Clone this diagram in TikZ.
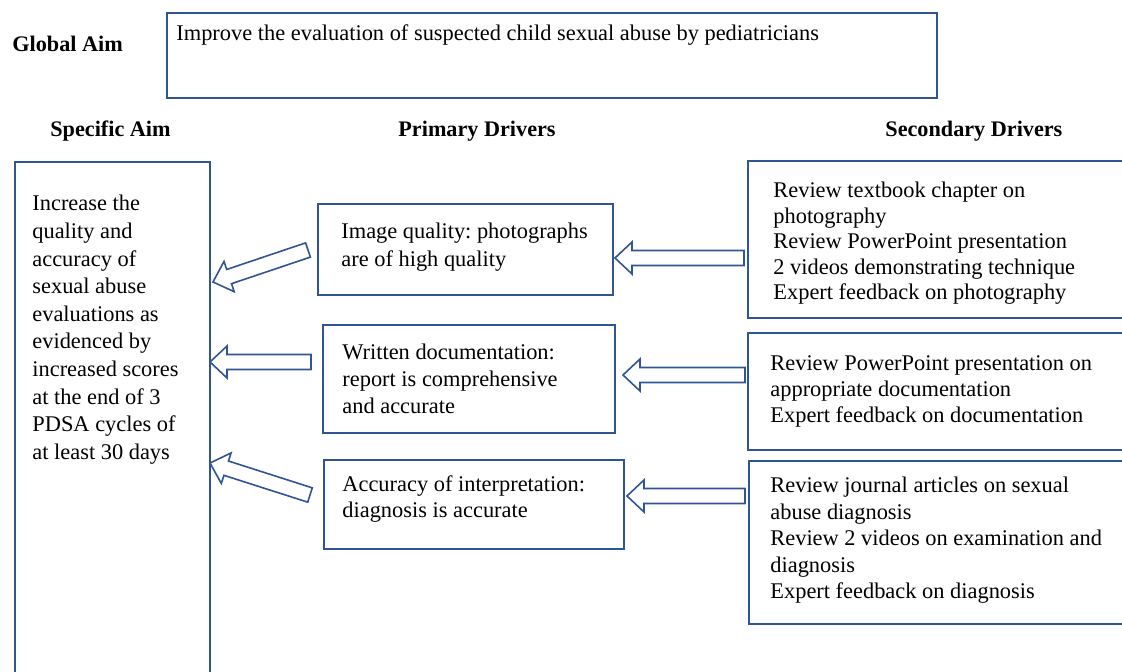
\documentclass[tikz,border=0pt]{standalone}
\usepackage{fontspec}
\setmainfont{Liberation Serif}
\usepackage{tikz}
\usetikzlibrary{calc,positioning}
\definecolor{boxblue}{RGB}{47,85,151}
\frenchspacing
\tikzset{>=latex}
\tikzset{
  box/.style={draw=boxblue, line width=0.8pt, rectangle, inner sep=0pt, anchor=north west},
  txt/.style={align=left, inner sep=0pt, anchor=north west, font=\fontsize{11.2}{13}\selectfont},
  ptxt/.style={txt, font=\fontsize{11.2}{13.8}\selectfont},
  head/.style={inner sep=0pt, anchor=base west, font=\fontsize{11.1}{13}\selectfont\bfseries},
  blk/.style={draw=boxblue, line width=0.8pt, fill=white, line join=miter}
}
\newcommand{\blkarrow}[2]{%
  \coordinate (hb) at ($(#2)!8.5pt!(#1)$);
  \draw[blk] ($(#1)!3.75pt!90:(#2)$) -- ($(hb)!3.75pt!90:(#2)$) -- ($(hb)!8pt!90:(#2)$) -- (#2)
    -- ($(hb)!8pt!-90:(#2)$) -- ($(hb)!3.75pt!-90:(#2)$) -- ($(#1)!3.75pt!-90:(#2)$) -- cycle;}

\begin{document}
\begin{tikzpicture}[x=0.5pt,y=-0.5pt]
\useasboundingbox (0,0) rectangle (1122,672);
\clip (0,0) rectangle (1122,672);

\node[head] (gaimlbl) at (12,52) {Global Aim};
\node[box, minimum width=385pt, minimum height=42.5pt] (gaim) at (166,12) {};
\node[txt] (gaimtxt) at (176,24) {Improve the evaluation of suspected child sexual abuse by pediatricians};

\node[head] (saimlbl) at (50,137) {Specific Aim};
\node[head] (plbl) at (398,137) {Primary Drivers};
\node[head] (slbl) at (885,137) {Secondary Drivers};

\node[box, minimum width=97.5pt, minimum height=270pt] (saim) at (14,161) {};
\node[ptxt] (saimtxt) at (32,195) {Increase the\\quality and\\accuracy of\\sexual abuse\\evaluations as\\evidenced by\\increased scores\\at the end of 3\\PDSA cycles of\\at least 30 days};

\node[box, minimum width=147.5pt, minimum height=45.5pt] (p1) at (317,203) {};
\node[ptxt] (p1txt) at (341,223) {Image quality: photographs\\are of high quality};
\node[box, minimum width=146pt, minimum height=54pt] (p2) at (322,324) {};
\node[ptxt, font=\fontsize{11.2}{13.5}\selectfont] (p2txt) at (342,344) {Written documentation:\\report is comprehensive\\and accurate};
\node[box, minimum width=150pt, minimum height=44.5pt] (p3) at (323,459) {};
\node[txt] (p3txt) at (342,475) {Accuracy of interpretation:\\diagnosis is accurate};

\node[box, minimum width=200pt, minimum height=78.5pt] (s1) at (747,160) {};
\node[txt, font=\fontsize{11.2}{12.7}\selectfont] (s1txt) at (773,182) {Review textbook chapter on\\photography\\Review PowerPoint presentation\\2 videos demonstrating technique\\Expert feedback on photography};
\node[box, minimum width=200pt, minimum height=58.5pt] (s2) at (747,332) {};
\node[txt] (s2txt) at (770,355) {Review PowerPoint presentation on\\appropriate documentation\\Expert feedback on documentation};
\node[box, minimum width=200pt, minimum height=81.5pt] (s3) at (748,460) {};
\node[txt, font=\fontsize{11.2}{13.2}\selectfont] (s3txt) at (770,477) {Review journal articles on sexual\\abuse diagnosis\\Review 2 videos on examination and\\diagnosis\\Expert feedback on diagnosis};

\coordinate (a1s) at (308,250);
\coordinate (a1e) at (213,282);
\coordinate (a2s) at (744,258);
\coordinate (a2e) at (615,258);
\coordinate (a3s) at (311,362);
\coordinate (a3e) at (210,362);
\coordinate (a4s) at (745,375);
\coordinate (a4e) at (623,375);
\coordinate (a5s) at (310,495);
\coordinate (a5e) at (210,463);
\coordinate (a6s) at (745,496);
\coordinate (a6e) at (627,496);

\blkarrow{a1s}{a1e}
\blkarrow{a2s}{a2e}
\blkarrow{a3s}{a3e}
\blkarrow{a4s}{a4e}
\blkarrow{a5s}{a5e}
\blkarrow{a6s}{a6e}
\end{tikzpicture}
\end{document}
